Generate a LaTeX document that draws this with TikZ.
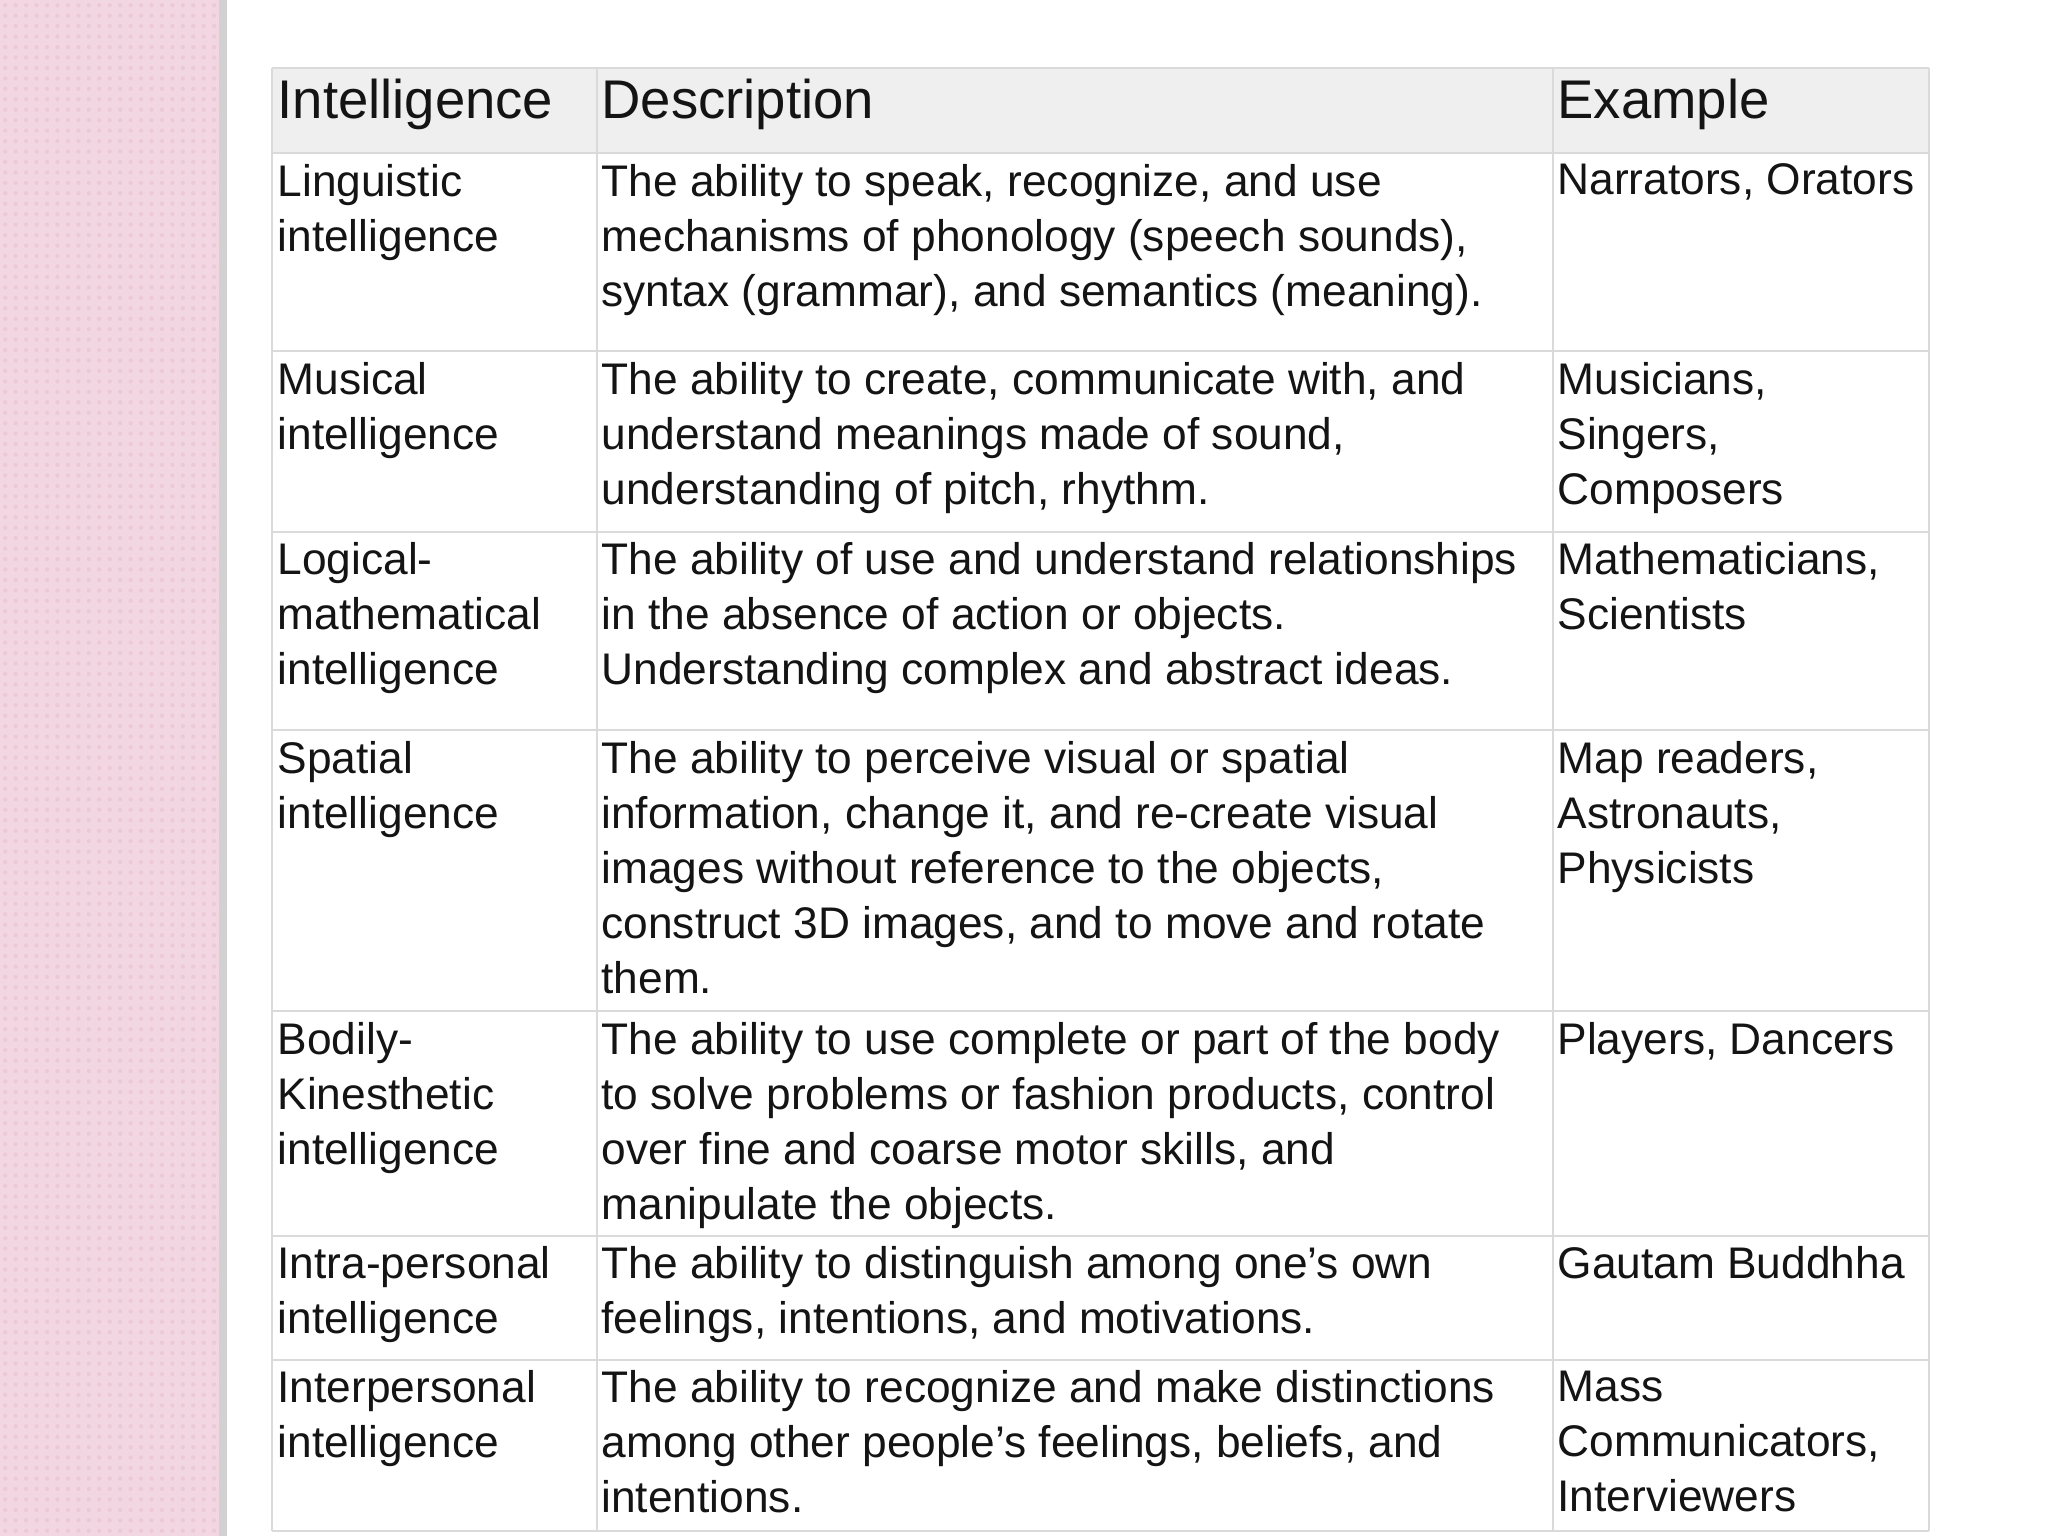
\documentclass[tikz,border=0pt]{standalone}
\usepackage{fontspec}
\setmainfont{Liberation Sans}
\definecolor{pinkbg}{RGB}{242,214,226}
\definecolor{pinkdot}{RGB}{236,200,216}
\definecolor{gridc}{RGB}{218,218,218}
\definecolor{headc}{RGB}{239,239,239}
\definecolor{txt}{RGB}{20,20,20}
\begin{document}
\begin{tikzpicture}[x=0.013061cm,y=-0.013061cm,
  cell/.style={anchor=north west,inner sep=0pt,align=left,text=txt,
    font=\fontsize{12.6}{15.65}\selectfont}]
\useasboundingbox (0,0) rectangle (1568,1176);
\fill[white] (0,0) rectangle (1568,1176);
\fill[pinkbg] (0,0) rectangle (172,1176);
\foreach \i in {0,...,21}{\foreach \j in {0,...,147}{
  \fill[pinkdot] (4+\i*8,4+\j*8) circle (1.6);}}
\fill[black!18] (168,0) rectangle (174,1176);
\fill[headc] (208,52) rectangle (1477,117);
\foreach \yy in {52,117,269,407,559,774,946,1041,1172}{\draw[gridc,line width=0.6pt] (208,\yy) -- (1477,\yy);}
\foreach \xx in {208,457,1189,1477}{\draw[gridc,line width=0.6pt] (\xx,52) -- (\xx,1172);}
\node[cell,font=\fontsize{15.5}{18}\selectfont] (h1) at (212,60) {Intelligence};
\node[cell,font=\fontsize{15.5}{18}\selectfont] (h2) at (460,60) {Description};
\node[cell,font=\fontsize{15.5}{18}\selectfont] (h3) at (1192,60) {Example};
% row 1
\node[cell] (a1) at (212,125) {Linguistic\\intelligence};
\node[cell] (b1) at (460,125) {The ability to speak, recognize, and use\\mechanisms of phonology (speech sounds),\\syntax (grammar), and semantics (meaning).};
\node[cell] (c1) at (1192,125) {Narrators, Orators};
% row 2
\node[cell] (a2) at (212,277) {Musical\\intelligence};
\node[cell] (b2) at (460,277) {The ability to create, communicate with, and\\understand meanings made of sound,\\understanding of pitch, rhythm.};
\node[cell] (c2) at (1192,277) {Musicians,\\Singers,\\Composers};
% row 3
\node[cell] (a3) at (212,415) {Logical-\\mathematical\\intelligence};
\node[cell] (b3) at (460,415) {The ability of use and understand relationships\\in the absence of action or objects.\\Understanding complex and abstract ideas.};
\node[cell] (c3) at (1192,415) {Mathematicians,\\Scientists};
% row 4
\node[cell] (a4) at (212,567) {Spatial\\intelligence};
\node[cell] (b4) at (460,567) {The ability to perceive visual or spatial\\information, change it, and re-create visual\\images without reference to the objects,\\construct 3D images, and to move and rotate\\them.};
\node[cell] (c4) at (1192,567) {Map readers,\\Astronauts,\\Physicists};
% row 5
\node[cell] (a5) at (212,782) {Bodily-\\Kinesthetic\\intelligence};
\node[cell] (b5) at (460,782) {The ability to use complete or part of the body\\to solve problems or fashion products, control\\over fine and coarse motor skills, and\\manipulate the objects.};
\node[cell] (c5) at (1192,782) {Players, Dancers};
% row 6
\node[cell] (a6) at (212,954) {Intra-personal\\intelligence};
\node[cell] (b6) at (460,954) {The ability to distinguish among one’s own\\feelings, intentions, and motivations.};
\node[cell] (c6) at (1192,954) {Gautam Buddhha};
% row 7
\node[cell] (a7) at (212,1049) {Interpersonal\\intelligence};
\node[cell] (b7) at (460,1049) {The ability to recognize and make distinctions\\among other people’s feelings, beliefs, and\\intentions.};
\node[cell] (c7) at (1192,1049) {Mass\\Communicators,\\Interviewers};
\end{tikzpicture}
\end{document}
